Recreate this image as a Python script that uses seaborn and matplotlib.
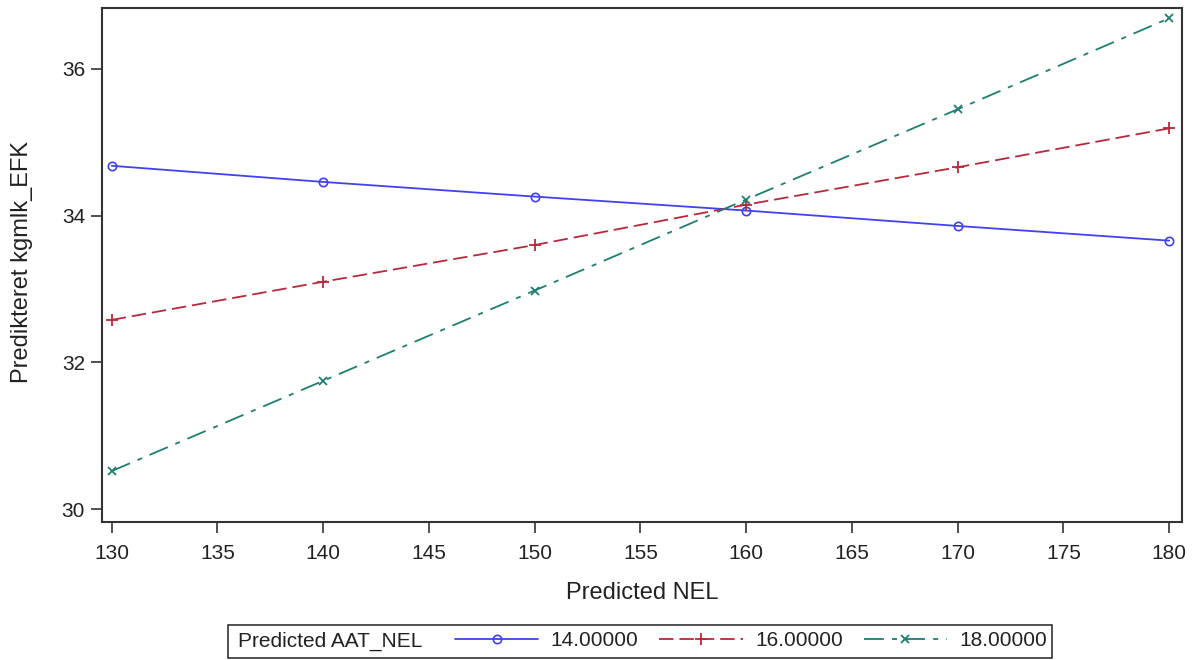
import matplotlib
matplotlib.use("Agg")
import matplotlib.pyplot as plt
import seaborn as sns
import pandas as pd
from matplotlib.patches import Rectangle
from matplotlib.lines import Line2D

nel = [130, 140, 150, 160, 170, 180]
aat_levels = ["14.00000", "16.00000", "18.00000"]
y_14 = [34.68, 34.46, 34.26, 34.07, 33.86, 33.66]
y_16 = [32.58, 33.10, 33.60, 34.15, 34.66, 35.19]
y_18 = [30.52, 31.75, 32.98, 34.22, 35.45, 36.69]
legend_title = "Predicted AAT_NEL"

rows = []
for lev, ys in zip(aat_levels, [y_14, y_16, y_18]):
    for x, y in zip(nel, ys):
        rows.append({"Predicted NEL": x, "Predikteret kgmlk_EFK": y, "Predicted AAT_NEL": lev})
df = pd.DataFrame(rows)

sns.set_style("ticks")
plt.rcParams['font.family'] = ['Liberation Sans', 'DejaVu Sans']

fig = plt.figure(figsize=(11.94, 6.6), dpi=100)
ax = fig.add_axes([0.0852, 0.2095, 0.9048, 0.7784])

palette = {"14.00000": "#4040F5", "16.00000": "#B8283C", "18.00000": "#1E7F70"}
dashes = {"14.00000": "", "16.00000": (8, 3.3), "18.00000": (11, 4.5, 2.8, 4.5)}

sns.lineplot(data=df, x="Predicted NEL", y="Predikteret kgmlk_EFK", hue="Predicted AAT_NEL",
             style="Predicted AAT_NEL", palette=palette, dashes=dashes, markers=False,
             linewidth=1.3, ax=ax, legend=False)
mk = {"14.00000": dict(marker="o", mfc="none", ms=6, mew=1.2),
      "16.00000": dict(marker="+", ms=8, mew=1.3),
      "18.00000": dict(marker="x", ms=6, mew=1.3)}
lsd = {"14.00000": "-", "16.00000": (0, (8, 3.3)), "18.00000": (0, (11, 4.5, 2.8, 4.5))}
handles = []
for lev in aat_levels:
    sub = df[df["Predicted AAT_NEL"] == lev]
    ax.plot(sub["Predicted NEL"], sub["Predikteret kgmlk_EFK"], linestyle="none",
            color=palette[lev], **mk[lev])
    handles.append(Line2D([], [], color=palette[lev], linestyle=lsd[lev], linewidth=1.3, **mk[lev]))

ax.set_xlim(129.53, 180.61)
ax.set_ylim(29.83, 36.83)
ax.set_xticks(list(range(130, 181, 5)))
ax.set_yticks([30, 32, 34, 36])
ax.tick_params(labelsize=15, length=8, width=1.2, color="#333333", labelcolor="#222222")
ax.tick_params(axis="x", pad=8)
ax.tick_params(axis="y", pad=4)
ax.set_xlabel("Predicted NEL", fontsize=17, color="#222222")
ax.set_ylabel("Predikteret kgmlk_EFK", fontsize=17, color="#222222")
ax.xaxis.set_label_coords(0.5, -0.118)
ax.yaxis.set_label_coords(-0.064, 0.506)
for s in ax.spines.values():
    s.set_visible(True)
    s.set_linewidth(1.5)
    s.set_color("#333333")

# legend: frame + title + entries
fig.add_artist(Rectangle((228 / 1194, 2 / 660), (1052 - 228) / 1194, (658 - 625) / 660,
                         transform=fig.transFigure, fill=False, edgecolor="#333333", linewidth=1.2))
fig.text(238 / 1194, 1 - 641 / 660, legend_title, fontsize=15, va="center", ha="left", color="#222222")
leg = fig.legend(handles, aat_levels, ncol=3, loc="center left",
                 bbox_to_anchor=(455 / 1194, 1 - 641 / 660), fontsize=15, frameon=False,
                 handlelength=4.0, handletextpad=0.6, columnspacing=1.0, borderpad=0,
                 borderaxespad=0)
for t in leg.get_texts():
    t.set_color("#222222")

fig.savefig("out.png", dpi=100)
